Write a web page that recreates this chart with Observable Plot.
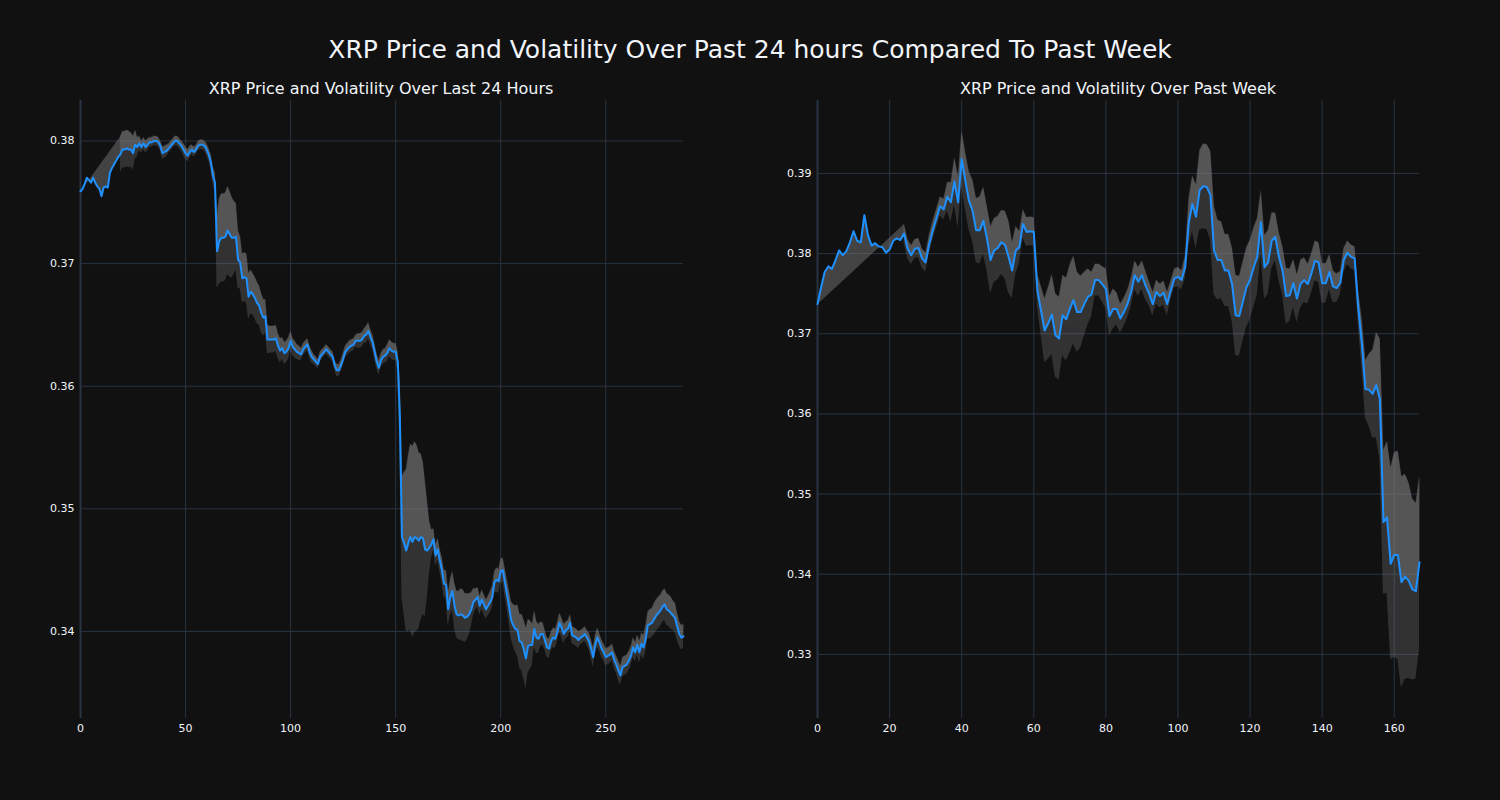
<!DOCTYPE html>
<html><head><meta charset="utf-8">
<script src="https://cdn.jsdelivr.net/npm/d3@7"></script>
<script src="https://cdn.jsdelivr.net/npm/@observablehq/plot@0.6"></script>
<style>
body{margin:0;background:#111111;}
#wrap{position:relative;width:1500px;height:800px;background:#111111;font-family:"DejaVu Sans",sans-serif;color:#f2f5fa;overflow:hidden}
.t{position:absolute;white-space:nowrap;transform:translateX(-50%);z-index:2}
#main{left:750px;top:36px;font-size:25px;line-height:27px}
#s1{left:381px;top:80px;font-size:16px;line-height:18px}
#s2{left:1118px;top:80px;font-size:16px;line-height:18px}
.p{position:absolute;top:0}
</style></head>
<body><div id="wrap">
<div class="t" id="main"></div><div class="t" id="s1"></div><div class="t" id="s2"></div>
<div class="p" id="left" style="left:0"></div><div class="p" id="right" style="left:750px"></div>
</div>
<script>
const mainTitle = "XRP Price and Volatility Over Past 24 hours Compared To Past Week";
const dayTitle = "XRP Price and Volatility Over Last 24 Hours";
const weekTitle = "XRP Price and Volatility Over Past Week";

// 24h: 5-minute steps (index 0..287)
const dayPrice = [
0.3759,0.3761,0.3765,0.3770,0.3768,0.3766,0.3770,0.3766,0.3763,0.3761,
0.3755,0.3762,0.3763,0.3762,0.3774,0.3778,0.3781,0.3784,0.3787,0.3789,
0.3793,0.3793,0.3794,0.3793,0.3793,0.3790,0.3797,0.3795,0.3798,0.3795,
0.3798,0.3795,0.3797,0.3799,0.3799,0.3800,0.3800,0.3799,0.3796,0.3790,
0.3791,0.3792,0.3794,0.3796,0.3798,0.3800,0.3800,0.3798,0.3796,0.3793,
0.3790,0.3788,0.3791,0.3793,0.3791,0.3793,0.3796,0.3797,0.3797,0.3796,
0.3793,0.3789,0.3783,0.3772,0.3766,0.3710,0.3718,0.3721,0.3721,0.3722,
0.3727,0.3724,0.3721,0.3721,0.3722,0.3703,0.3701,0.3688,0.3689,0.3688,
0.3673,0.3677,0.3675,0.3672,0.3668,0.3666,0.3660,0.3656,0.3657,0.3638,
0.3638,0.3638,0.3638,0.3639,0.3633,0.3629,0.3631,0.3627,0.3628,0.3631,
0.3637,0.3632,0.3630,0.3628,0.3627,0.3626,0.3630,0.3632,0.3634,0.3628,
0.3624,0.3622,0.3620,0.3618,0.3624,0.3626,0.3628,0.3630,0.3628,0.3626,
0.3624,0.3617,0.3613,0.3613,0.3617,0.3622,0.3628,0.3630,0.3632,0.3633,
0.3634,0.3637,0.3637,0.3637,0.3638,0.3641,0.3642,0.3645,0.3640,0.3636,
0.3628,0.3620,0.3615,0.3621,0.3624,0.3625,0.3627,0.3631,0.3629,0.3628,
0.3628,0.3620,0.3575,0.3477,0.3472,0.3466,0.3472,0.3477,0.3473,0.3477,
0.3476,0.3474,0.3477,0.3476,0.3467,0.3466,0.3468,0.3471,0.3475,0.3462,
0.3467,0.3458,0.3450,0.3439,0.3438,0.3418,0.3428,0.3433,0.3421,0.3414,
0.3413,0.3414,0.3413,0.3411,0.3412,0.3414,0.3418,0.3424,0.3426,0.3428,
0.3421,0.3426,0.3422,0.3418,0.3421,0.3424,0.3428,0.3440,0.3442,0.3441,
0.3449,0.3450,0.3440,0.3430,0.3420,0.3409,0.3405,0.3402,0.3401,0.3392,
0.3391,0.3385,0.3378,0.3388,0.3389,0.3389,0.3402,0.3395,0.3394,0.3398,
0.3398,0.3393,0.3387,0.3386,0.3392,0.3395,0.3394,0.3400,0.3407,0.3403,
0.3398,0.3401,0.3402,0.3407,0.3397,0.3396,0.3395,0.3393,0.3395,0.3396,
0.3398,0.3395,0.3392,0.3386,0.3379,0.3389,0.3395,0.3391,0.3386,0.3383,
0.3379,0.3380,0.3381,0.3383,0.3377,0.3373,0.3368,0.3364,0.3371,0.3372,
0.3373,0.3376,0.3380,0.3387,0.3383,0.3389,0.3383,0.3390,0.3387,0.3394,
0.3405,0.3406,0.3407,0.3410,0.3413,0.3415,0.3417,0.3420,0.3422,0.3418,
0.3417,0.3415,0.3413,0.3411,0.3404,0.3398,0.3395,0.3396
];
const dayVol = [
null,null,null,null,null,null,null,null,null,null,
null,null,null,null,null,null,null,null,null,0.0015,
0.0015,0.0015,0.0015,0.0015,0.0014,0.0014,0.0012,0.0008,0.0006,0.0005,
0.0005,0.0005,0.0005,0.0004,0.0004,0.0004,0.0004,0.0004,0.0004,0.0005,
0.0005,0.0005,0.0004,0.0004,0.0004,0.0004,0.0004,0.0004,0.0004,0.0005,
0.0005,0.0005,0.0005,0.0004,0.0004,0.0004,0.0004,0.0004,0.0004,0.0004,
0.0005,0.0005,0.0006,0.0007,0.0008,0.0030,0.0035,0.0036,0.0036,0.0036,
0.0036,0.0035,0.0033,0.0030,0.0027,0.0024,0.0021,0.0020,0.0020,0.0020,
0.0019,0.0018,0.0017,0.0017,0.0017,0.0016,0.0016,0.0015,0.0014,0.0012,
0.0011,0.0011,0.0011,0.0011,0.0010,0.0010,0.0009,0.0009,0.0009,0.0009,
0.0008,0.0007,0.0007,0.0006,0.0006,0.0005,0.0005,0.0005,0.0005,0.0005,
0.0005,0.0004,0.0004,0.0004,0.0004,0.0004,0.0004,0.0004,0.0004,0.0004,
0.0004,0.0004,0.0005,0.0005,0.0005,0.0005,0.0005,0.0005,0.0005,0.0005,
0.0005,0.0005,0.0006,0.0006,0.0006,0.0006,0.0007,0.0007,0.0006,0.0006,
0.0006,0.0006,0.0006,0.0006,0.0006,0.0006,0.0007,0.0007,0.0007,0.0007,
0.0007,0.0008,0.0030,0.0050,0.0058,0.0066,0.0072,0.0076,0.0078,0.0078,
0.0076,0.0072,0.0068,0.0062,0.0055,0.0040,0.0022,0.0012,0.0009,0.0009,
0.0009,0.0009,0.0010,0.0011,0.0012,0.0014,0.0015,0.0016,0.0018,0.0019,
0.0020,0.0021,0.0021,0.0020,0.0019,0.0017,0.0014,0.0011,0.0009,0.0008,
0.0008,0.0008,0.0008,0.0008,0.0008,0.0009,0.0009,0.0009,0.0010,0.0010,
0.0010,0.0010,0.0011,0.0012,0.0013,0.0015,0.0017,0.0019,0.0021,0.0022,
0.0023,0.0024,0.0025,0.0022,0.0020,0.0017,0.0015,0.0013,0.0012,0.0010,
0.0009,0.0008,0.0008,0.0008,0.0008,0.0008,0.0008,0.0008,0.0008,0.0008,
0.0008,0.0007,0.0007,0.0007,0.0007,0.0007,0.0007,0.0007,0.0006,0.0006,
0.0006,0.0006,0.0007,0.0007,0.0008,0.0008,0.0008,0.0007,0.0007,0.0007,
0.0007,0.0007,0.0007,0.0007,0.0007,0.0007,0.0008,0.0008,0.0008,0.0008,
0.0008,0.0008,0.0008,0.0008,0.0008,0.0008,0.0009,0.0009,0.0010,0.0011,
0.0011,0.0012,0.0012,0.0013,0.0013,0.0013,0.0013,0.0013,0.0013,0.0013,
0.0013,0.0013,0.0012,0.0012,0.0011,0.0010,0.0010,0.0010
];

// Week: hourly steps (index 0..167)
const weekPrice = [
0.3737,0.3758,0.3777,0.3784,0.3781,0.3792,0.3804,0.3798,0.3803,0.3814,
0.3828,0.3816,0.3814,0.3848,0.3823,0.3810,0.3813,0.3809,0.3808,0.3801,
0.3805,0.3816,0.3819,0.3817,0.3825,0.3806,0.3798,0.3806,0.3807,0.3794,
0.3789,0.3812,0.3829,0.3844,0.3859,0.3855,0.3871,0.3864,0.3890,0.3864,
0.3918,0.3891,0.3866,0.3854,0.3829,0.3829,0.3841,0.3819,0.3792,0.3804,
0.3807,0.3814,0.3811,0.3796,0.3779,0.3804,0.3808,0.3837,0.3827,0.3828,
0.3827,0.3754,0.3729,0.3704,0.3713,0.3724,0.3698,0.3694,0.3723,0.3718,
0.3731,0.3742,0.3727,0.3727,0.3737,0.3746,0.3749,0.3767,0.3767,0.3762,
0.3756,0.3722,0.3731,0.3731,0.3719,0.3727,0.3737,0.3752,0.3773,0.3765,
0.3773,0.3760,0.3750,0.3737,0.3752,0.3747,0.3751,0.3737,0.3754,0.3769,
0.3771,0.3767,0.3783,0.3839,0.3862,0.3846,0.3879,0.3884,0.3883,0.3873,
0.3804,0.3792,0.3792,0.3779,0.3779,0.3762,0.3723,0.3722,0.3740,0.3758,
0.3767,0.3783,0.3796,0.3839,0.3783,0.3789,0.3816,0.3821,0.3796,0.3779,
0.3747,0.3748,0.3763,0.3744,0.3762,0.3767,0.3762,0.3775,0.3791,0.3789,
0.3763,0.3763,0.3777,0.3759,0.3757,0.3763,0.3792,0.3801,0.3796,0.3794,
0.3733,0.3688,0.3631,0.3630,0.3625,0.3636,0.3619,0.3465,0.3471,0.3413,
0.3424,0.3424,0.3390,0.3397,0.3392,0.3381,0.3379,0.3415
];
const weekVol = [
null,null,null,null,null,null,null,null,null,null,
null,null,null,null,null,null,null,null,null,null,
null,null,null,null,0.0012,0.0012,0.0012,0.0012,0.0012,0.0012,
0.0012,0.0012,0.0012,0.0012,0.0012,0.0013,0.0018,0.0025,0.0030,0.0032,
0.0035,0.0035,0.0036,0.0038,0.0040,0.0042,0.0042,0.0040,0.0042,0.0040,
0.0040,0.0040,0.0042,0.0045,0.0035,0.0030,0.0020,0.0018,0.0018,0.0018,
0.0018,0.0020,0.0030,0.0040,0.0045,0.0050,0.0052,0.0052,0.0050,0.0052,
0.0055,0.0055,0.0050,0.0045,0.0040,0.0035,0.0028,0.0020,0.0020,0.0022,
0.0025,0.0025,0.0025,0.0020,0.0018,0.0018,0.0018,0.0018,0.0018,0.0018,
0.0018,0.0018,0.0015,0.0015,0.0015,0.0015,0.0015,0.0015,0.0012,0.0012,
0.0012,0.0012,0.0015,0.0030,0.0035,0.0040,0.0050,0.0053,0.0053,0.0055,
0.0055,0.0050,0.0048,0.0045,0.0045,0.0045,0.0050,0.0050,0.0050,0.0050,
0.0050,0.0050,0.0048,0.0040,0.0040,0.0040,0.0035,0.0030,0.0030,0.0030,
0.0035,0.0033,0.0030,0.0030,0.0030,0.0028,0.0025,0.0025,0.0025,0.0025,
0.0025,0.0025,0.0022,0.0020,0.0018,0.0015,0.0015,0.0015,0.0015,0.0015,
0.0020,0.0030,0.0036,0.0045,0.0055,0.0066,0.0075,0.0090,0.0095,0.0120,
0.0128,0.0130,0.0132,0.0128,0.0122,0.0113,0.0110,0.0108
];

const dayXTicks = [0, 50, 100, 150, 200, 250];
const dayYTicks = [0.34, 0.35, 0.36, 0.37, 0.38];
const weekXTicks = [0, 20, 40, 60, 80, 100, 120, 140, 160];
const weekYTicks = [0.33, 0.34, 0.35, 0.36, 0.37, 0.38, 0.39];

document.getElementById("main").textContent = mainTitle;
document.getElementById("s1").textContent = dayTitle;
document.getElementById("s2").textContent = weekTitle;

function panel(price, vol, xDomain, yDomain, xTicks, yTicks, margins) {
  const rows = price.map((p, i) => ({x: i, p, v: vol[i]}));
  const banded = rows.filter(d => d.v != null).map(d => ({x: d.x, lo: d.p - d.v, hi: d.p + d.v}));
  // polygon: price forward, then upper bound backward (closed implicitly)
  const poly = rows.map(d => ({x: d.x, y: d.p}))
    .concat(banded.slice().reverse().map(d => ({x: d.x, y: d.hi})));
  const grid = "#283442";
  return Plot.plot({
    width: 750, height: 800,
    marginLeft: margins[0], marginRight: margins[1], marginTop: 100, marginBottom: 82,
    x: {domain: xDomain, label: null},
    y: {domain: yDomain, label: null},
    style: {background: "transparent", color: "#f2f5fa", fontSize: "11px", fontFamily: "DejaVu Sans, sans-serif"},
    marks: [
      Plot.gridX(xTicks, {stroke: grid, strokeOpacity: 1, strokeWidth: 1}),
      Plot.gridY(yTicks, {stroke: grid, strokeOpacity: 1, strokeWidth: 1}),
      Plot.ruleX([0], {stroke: grid, strokeWidth: 2}),
      Plot.areaY(banded, {x: "x", y1: "lo", y2: "hi", fill: "#808080", fillOpacity: 0.3}),
      Plot.line(poly, {x: "x", y: "y", fill: "#808080", fillOpacity: 0.45, stroke: "none"}),
      Plot.line(rows, {x: "x", y: "p", stroke: "#1e90ff", strokeWidth: 2}),
      Plot.axisX(xTicks, {tickSize: 0, tickPadding: 6, label: null}),
      Plot.axisY(yTicks, {tickSize: 0, tickPadding: 6, label: null, tickFormat: d3.format(".2f")})
    ]
  });
}

document.getElementById("left").append(
  panel(dayPrice, dayVol, [0, 287], [0.3329, 0.3833], dayXTicks, dayYTicks, [80, 67]));
document.getElementById("right").append(
  panel(weekPrice, weekVol, [0, 167], [0.3220, 0.3991], weekXTicks, weekYTicks, [67, 81]));
</script>
</body></html>
